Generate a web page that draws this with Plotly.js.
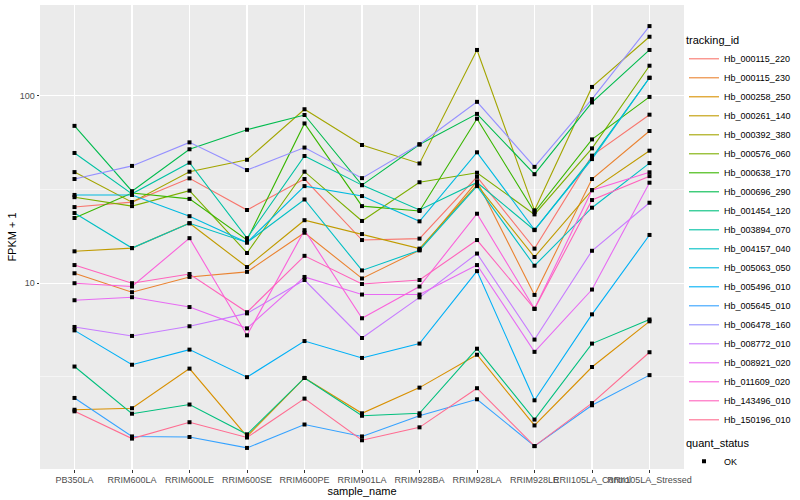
<!DOCTYPE html>
<html><head><meta charset="utf-8">
<script src="https://cdn.plot.ly/plotly-3.0.1.min.js"></script>
<style>html,body{margin:0;padding:0;background:#fff}#chart{width:800px;height:500px}</style>
</head><body><div id="chart"></div>
<script>
const samples = ["PB350LA","RRIM600LA","RRIM600LE","RRIM600SE","RRIM600PE","RRIM901LA","RRIM928BA","RRIM928LA","RRIM928LE","RRII105LA_Control","RRII105LA_Stressed"];
const trackingIds = ["Hb_000115_220","Hb_000115_230","Hb_000258_250","Hb_000261_140","Hb_000392_380","Hb_000576_060","Hb_000638_170","Hb_000696_290","Hb_001454_120","Hb_003894_070","Hb_004157_040","Hb_005063_050","Hb_005496_010","Hb_005645_010","Hb_006478_160","Hb_008772_010","Hb_008921_020","Hb_011609_020","Hb_143496_010","Hb_150196_010"];
const colors = ["#F8766D","#EA8331","#D89000","#C09B00","#A3A500","#7CAE00","#39B600","#00BB4E","#00BF7D","#00C1A3","#00BFC4","#00BAE0","#00B0F6","#35A2FF","#9590FF","#C77CFF","#E76BF3","#FA62DB","#FF62BC","#FF6C91"];

const Hb_000115_220 = [25.5, 27.1, 36.3, 24.6, 36.0, 17.0, 17.3, 37.0, 15.3, 48.0, 79.4];
const Hb_000115_230 = [11.3, 8.95, 10.8, 11.5, 18.6, 10.6, 15.0, 35.0, 8.66, 36.0, 65.0];
const Hb_000258_250 = [2.11, 2.15, 3.50, 1.52, 3.12, 2.02, 2.77, 4.15, 1.74, 3.57, 6.26];
const Hb_000261_140 = [14.8, 15.4, 20.9, 12.2, 21.7, 18.3, 15.3, 33.5, 13.8, 31.4, 51.0];
const Hb_000392_380 = [39.2, 27.1, 39.4, 45.6, 84.9, 54.7, 43.6, 176, 24.5, 111.7, 207];
const Hb_000576_060 = [28.8, 25.8, 31.2, 14.5, 39.4, 21.5, 34.6, 38.9, 23.3, 52.5, 145];
const Hb_000638_170 = [22.3, 30.3, 28.2, 17.0, 71.3, 25.8, 24.3, 75.6, 24.0, 58.6, 98.8];
const Hb_000696_290 = [69.2, 31.0, 51.9, 66.0, 79.1, 33.4, 55.0, 80.2, 38.2, 92.3, 176];
const Hb_001454_120 = [3.59, 2.01, 2.25, 1.56, 3.12, 1.96, 2.02, 4.47, 1.87, 4.76, 6.40];
const Hb_003894_070 = [49.6, 30.0, 44.0, 17.4, 47.8, 33.4, 24.6, 34.5, 19.2, 46.8, 125];
const Hb_004157_040 = [23.7, 15.4, 20.9, 16.5, 28.0, 11.7, 15.0, 33.0, 12.4, 25.3, 43.8];
const Hb_005063_050 = [29.6, 29.6, 22.8, 16.5, 33.0, 29.2, 21.4, 50.0, 19.3, 46.0, 125];
const Hb_005496_010 = [5.6, 3.67, 4.42, 3.15, 4.91, 3.99, 4.76, 11.6, 2.37, 6.82, 18.1];
const Hb_005645_010 = [2.44, 1.52, 1.51, 1.32, 1.76, 1.52, 1.96, 2.40, 1.35, 2.23, 3.23];
const Hb_006478_160 = [36.0, 42.3, 56.5, 40.2, 53.0, 36.4, 55.2, 93.0, 41.8, 96.1, 236];
const Hb_008772_010 = [5.84, 5.23, 5.89, 6.9, 10.4, 5.1, 8.4, 14.4, 5.0, 14.9, 26.9];
const Hb_008921_020 = [8.11, 8.42, 7.46, 5.74, 10.8, 8.7, 8.7, 12.5, 4.3, 9.25, 34.4];
const Hb_011609_020 = [10.0, 9.6, 17.4, 5.27, 19.2, 6.5, 9.6, 23.5, 7.3, 31.4, 39.1];
const Hb_143496_010 = [12.5, 10.0, 11.2, 7.0, 14.0, 9.9, 10.4, 17.0, 7.3, 27.8, 37.3];
const Hb_150196_010 = [2.07, 1.48, 1.81, 1.50, 2.42, 1.45, 1.70, 2.75, 1.35, 2.29, 4.28];

const seriesValues = [Hb_000115_220, Hb_000115_230, Hb_000258_250, Hb_000261_140, Hb_000392_380, Hb_000576_060, Hb_000638_170, Hb_000696_290, Hb_001454_120, Hb_003894_070, Hb_004157_040, Hb_005063_050, Hb_005496_010, Hb_005645_010, Hb_006478_160, Hb_008772_010, Hb_008921_020, Hb_011609_020, Hb_143496_010, Hb_150196_010];
const yTicks = [10, 100];
const yTickText = ["10", "100"];
const quantStatus = "OK";

const traces = [];
seriesValues.forEach((vals, i) => {
  traces.push({
    type: 'scatter', mode: 'lines', x: samples, y: vals,
    name: trackingIds[i], legend: 'legend',
    line: {color: colors[i], width: 1.1},
    hoverinfo: 'skip'
  });
});
const px = [], py = [];
seriesValues.forEach(vals => vals.forEach((v, j) => { px.push(samples[j]); py.push(v); }));
traces.push({
  type: 'scatter', mode: 'markers', x: px, y: py, name: quantStatus, legend: 'legend2',
  marker: {symbol: 'square', size: 4, color: '#000'}, hoverinfo: 'skip'
});

// ggplot-like 5% expansion on the log scale
const allLog = py.map(v => Math.log10(v));
const lmin = Math.min(...allLog), lmax = Math.max(...allLog);
const pad = (lmax - lmin) * 0.05;

const font = {family: 'Liberation Sans, Arial, sans-serif', color: '#000'};
const layout = {
  width: 800, height: 500,
  margin: {l: 40, r: 113, t: 5, b: 31},
  paper_bgcolor: '#fff', plot_bgcolor: '#EBEBEB',
  font: font,
  showlegend: true,
  xaxis: {
    type: 'category', range: [-0.6, samples.length - 0.4],
    showgrid: true, gridcolor: '#fff', gridwidth: 1.1,
    ticks: 'outside', ticklen: 2.5, tickcolor: '#333', tickwidth: 1,
    tickangle: 0, tickfont: {size: 9, color: '#4D4D4D', family: font.family},
    showline: false, zeroline: false,
    title: {text: 'sample_name', font: {size: 11, color: '#000'}, standoff: 0}
  },
  yaxis: {
    type: 'log', range: [lmin - pad, lmax + pad],
    tickmode: 'array', tickvals: yTicks, ticktext: yTickText,
    showgrid: true, gridcolor: '#fff', gridwidth: 1.1,
    minor: {tickmode: 'array', tickvals: [Math.sqrt(10), Math.sqrt(1000), Math.sqrt(100000)], showgrid: true, gridcolor: '#fff', gridwidth: 0.5, ticks: ''},
    ticks: 'outside', ticklen: 2.5, tickcolor: '#333', tickwidth: 1,
    tickfont: {size: 9, color: '#4D4D4D', family: font.family},
    showline: false, zeroline: false,
    title: {text: 'FPKM + 1', font: {size: 11, color: '#000'}, standoff: 0}
  },
  legend: {
    title: {text: 'tracking_id', font: {size: 11, color: '#000'}},
    font: {size: 9, color: '#000', family: font.family},
    xref: 'container', yref: 'container', x: 0.855, y: 0.94, xanchor: 'left', yanchor: 'top',
    bgcolor: 'rgba(0,0,0,0)', tracegroupgap: 0, itemwidth: 30, maxheight: 470
  },
  legend2: {
    title: {text: 'quant_status', font: {size: 11, color: '#000'}},
    font: {size: 9, color: '#000', family: font.family},
    xref: 'container', yref: 'container', x: 0.855, y: 0.135, xanchor: 'left', yanchor: 'top',
    bgcolor: 'rgba(0,0,0,0)', itemwidth: 30
  }
};
Plotly.newPlot('chart', traces, layout, {staticPlot: true, displayModeBar: false});
</script>
</body></html>
